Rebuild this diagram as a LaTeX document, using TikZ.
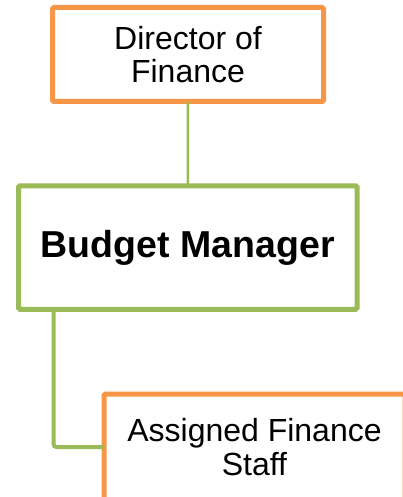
\documentclass[tikz,border=0pt]{standalone}
\usepackage{fontspec}
\setmainfont{Liberation Sans}
\definecolor{boxorange}{HTML}{F79646}
\definecolor{boxgreen}{HTML}{9BBB59}
\begin{document}
\begin{tikzpicture}[x=1pt,y=-1pt,
  orgbox/.style={draw, line width=5pt, outer sep=0pt, inner sep=0pt,
    rounded corners=1.5pt, fill=white, align=center,
    font=\fontsize{32}{33.5}\selectfont},
  leadbox/.style={orgbox, draw=boxorange},
  mgrbox/.style={orgbox, draw=boxgreen, font=\fontsize{37.5}{40}\selectfont\bfseries},
  link/.style={draw=boxgreen, rounded corners=3pt}]
  \clip (0,0) rectangle (403,497);
  \fill[white] (0,0) rectangle (403,497);

  % boxes
  \node[leadbox, minimum width=271pt, minimum height=94pt] (dir) at (188,54.5)
    {Director of\\Finance};
  \node[mgrbox, minimum width=338.5pt, minimum height=123.5pt] (mgr) at (187.75,247.5)
    {Budget Manager};
  \node[leadbox, minimum width=301pt, minimum height=106pt] (staff) at (254.5,447)
    {Assigned Finance\\Staff};

  % connectors
  \coordinate (elbow) at (53.5,447);
  \draw[link, line width=2.5pt] (dir.south) -- (mgr.north);
  \draw[link, line width=4pt] (elbow |- mgr.south) -- (elbow) -- (elbow -| staff.west);
\end{tikzpicture}
\end{document}
